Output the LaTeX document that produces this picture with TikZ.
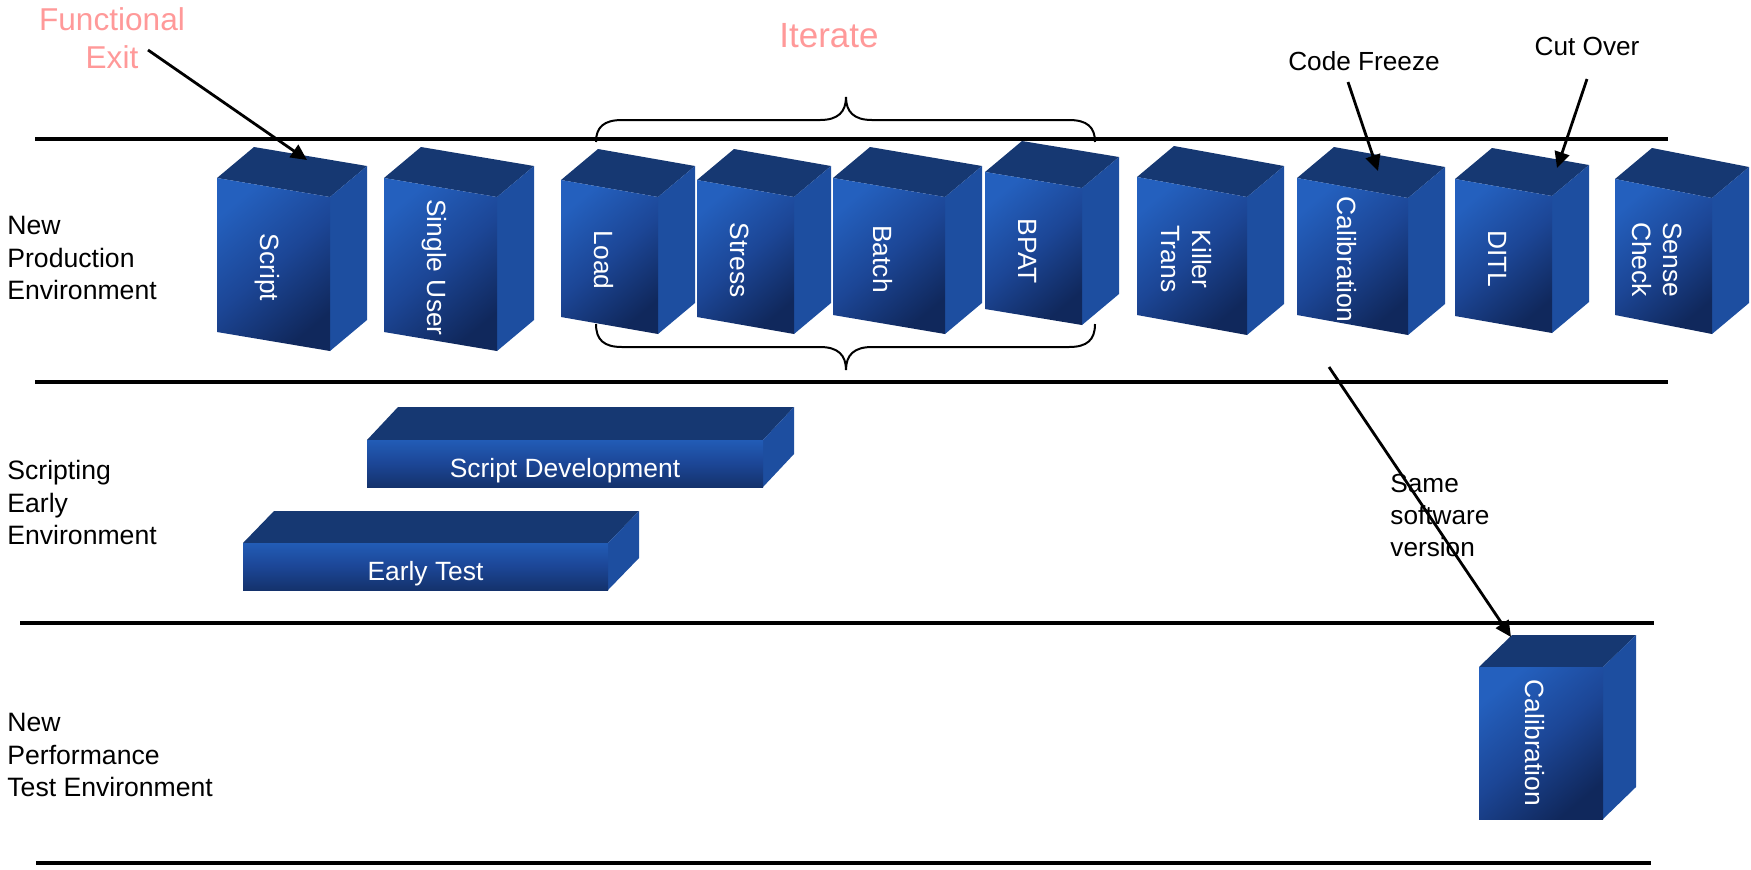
\documentclass[tikz,border=0pt]{standalone}
\usepackage{fontspec}
\setmainfont{Liberation Sans}
\usetikzlibrary{calc,arrows.meta}

\definecolor{frontlight}{RGB}{36,96,190}
\definecolor{frontmid}{RGB}{28,70,150}
\definecolor{frontdark}{RGB}{16,40,92}
\definecolor{barlight}{RGB}{34,92,182}
\definecolor{bardark}{RGB}{20,50,108}
\definecolor{topblue}{RGB}{22,56,114}
\definecolor{sideblue}{RGB}{29,78,160}
\definecolor{pinktext}{RGB}{255,153,153}

\tikzset{
  topface/.style={fill=topblue},
  sideface/.style={fill=sideblue},
  frontface/.style={top color=frontlight, bottom color=frontdark, middle color=frontmid, shading angle=40},
  barface/.style={top color=barlight, bottom color=bardark, middle color=frontmid},
  boxlabel/.style={text=white, font=\fontsize{13.2}{15.5}\selectfont, align=center, inner sep=0pt},
  rowlabel/.style={font=\fontsize{13.3}{16.3}\selectfont, align=left, anchor=north west, inner sep=0pt},
  notelabel/.style={font=\fontsize{13.1}{16}\selectfont, inner sep=0pt},
  pinklabel/.style={text=pinktext, inner sep=0pt},
  lane/.style={line width=1.8pt},
  arr/.style={line width=1.4pt, -{Triangle[length=8pt,width=7.5pt]}},
  bracket/.style={line width=1pt},
}

% three visible faces of a block: #1 name, #2 x, #3 y (front top-left),
% #4 width, #5 height, #6 drop of the front top edge, #7/#8 depth, #9 front style
\newcommand\boxfaces[9]{%
  \coordinate (#1-a) at (#2,#3);
  \coordinate (#1-b) at ({#2+#4},{#3+#6});
  \coordinate (#1-c) at ({#2+#4},{#3+#6+#5});
  \coordinate (#1-d) at (#2,{#3+#5});
  \fill[topface] (#1-a) -- (#1-b) -- ++(#7,#8) -- ($(#1-a)+(#7,#8)$) -- cycle;
  \fill[sideface] (#1-b) -- ++(#7,#8) -- ($(#1-c)+(#7,#8)$) -- (#1-c) -- cycle;
  \shade[#9] (#1-a) -- (#1-b) -- (#1-c) -- (#1-d) -- cycle;
}
% upright block with its label running down the front face
\newcommand\tallbox[7]{%
  \boxfaces{#1}{#2}{#3}{#4}{#5}{#6}{37}{-31}{frontface}
  \node[boxlabel, rotate=-90] (#1) at ($(#1-a)!0.5!(#1-c)+(-6,3)$) {#7};
}
% long flat bar with a horizontal label
\newcommand\flatbar[8]{%
  \boxfaces{#1}{#2}{#3}{#4}{#5}{0}{#6}{#7}{barface}
  \node[boxlabel] (#1) at ($(#1-a)!0.5!(#1-c)+(0,7)$) {#8};
}

\begin{document}
\begin{tikzpicture}[x=0.5pt,y=-0.5pt]
\useasboundingbox (0,0) rectangle (1751,869);

% environment separators
\draw[lane] (35,139) -- (1668,139);
\draw[lane] (35,382) -- (1668,382);
\draw[lane] (20,623) -- (1654,623);
\draw[lane] (36,863) -- (1651,863);

% environment names
\node[rowlabel] (prodenv) at (7,216) {New\\Production\\Environment};
\node[rowlabel] (earlyenv) at (7,460) {Scripting\\Early\\Environment};
\node[rowlabel] (perfenv) at (7,713) {New\\Performance\\Test Environment};

% iteration brackets
\draw[bracket] (596,142) .. controls (596,127) and (604,120) .. (622,120) -- (820,120)
  .. controls (838,120) and (846,112) .. (846,97)
  .. controls (846,112) and (854,120) .. (872,120) -- (1069,120)
  .. controls (1087,120) and (1095,127) .. (1095,142);
\draw[bracket] (596,324) .. controls (596,340) and (604,347) .. (622,347) -- (820,347)
  .. controls (838,347) and (846,355) .. (846,370)
  .. controls (846,355) and (854,347) .. (872,347) -- (1069,347)
  .. controls (1087,347) and (1095,340) .. (1095,324);
\node[pinklabel, font=\fontsize{17.5}{20}\selectfont, anchor=base] (iterate) at (829,47) {Iterate};

% production environment stages
\tallbox{script}{217}{178}{113}{154}{19}{Script}
\tallbox{single}{384}{178}{113}{154}{19}{Single User}
\tallbox{load}{561}{180}{97}{137}{17}{Load}
\tallbox{stress}{697}{180}{97}{137}{17}{Stress}
\tallbox{batch}{833}{178}{112}{137}{19}{Batch}
\tallbox{bpat}{985}{172}{97}{137}{16}{BPAT}
\tallbox{killer}{1137}{177}{110}{138}{20}{Killer\\Trans}
\tallbox{calprod}{1297}{178}{111}{137}{20}{Calibration}
\tallbox{ditl}{1455}{179}{97}{137}{17}{DITL}
\tallbox{sense}{1615}{179}{97}{136}{19}{Sense\\Check}

% early environment work
\flatbar{scriptdev}{367}{440}{396}{47}{31}{-33}{Script Development}
\flatbar{earlytest}{243}{543}{365}{47}{31}{-32}{Early Test}

% performance test environment
\boxfaces{caltest}{1479}{667}{124}{152}{0}{33}{-32}{frontface}
\node[boxlabel, rotate=-90] (caltestlabel) at ($(caltest-a)!0.5!(caltest-c)+(-6,0)$) {Calibration};

% milestones
\node[pinklabel, font=\fontsize{15.8}{19}\selectfont, align=center, anchor=north] (fexit) at (112,7) {Functional\\Exit};
\node[notelabel, anchor=base] (freeze) at (1364,70) {Code Freeze};
\node[notelabel, anchor=base] (cutover) at (1587,55) {Cut Over};
\node[notelabel, align=left, anchor=north west] (samever) at (1390,474) {Same\\software\\version};

\coordinate (fexit-from) at (148,50);
\coordinate (script-tip) at (307,160);
\coordinate (freeze-from) at (1348,82);
\coordinate (calprod-tip) at (1378,171);
\coordinate (cutover-from) at (1587,79);
\coordinate (ditl-tip) at (1557,168);
\coordinate (calprod-from) at (1329,367);
\coordinate (caltest-tip) at (1511,637);

\draw[arr] (fexit-from) -- (script-tip);
\draw[arr] (freeze-from) -- (calprod-tip);
\draw[arr] (cutover-from) -- (ditl-tip);
\draw[arr] (calprod-from) -- (caltest-tip);
\end{tikzpicture}
\end{document}
